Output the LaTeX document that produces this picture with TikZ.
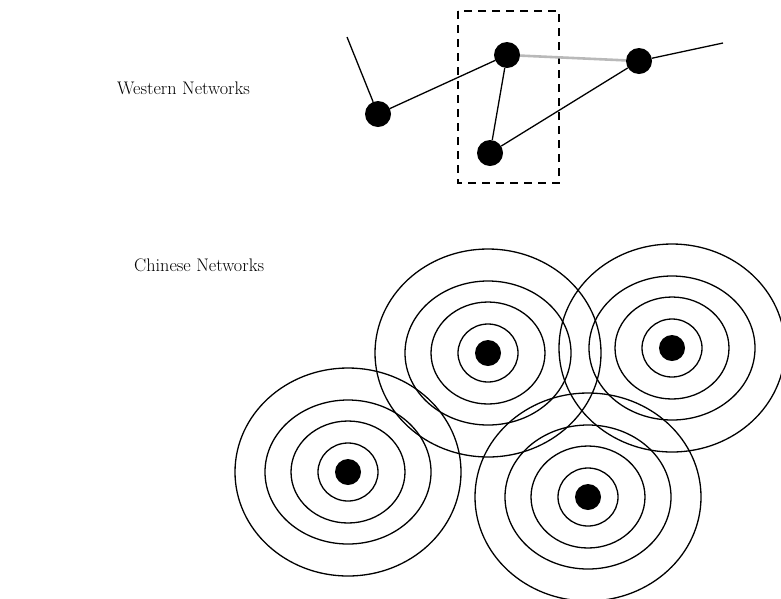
\documentclass[tikz,border=0pt]{standalone}
\usetikzlibrary{positioning}

\begin{document}
\begin{tikzpicture}[x=1pt, y=-1pt,
    dot/.style={circle, fill=black, inner sep=0pt, minimum size=26pt},
    lbl/.style={font=\fontsize{18.2}{21}\selectfont, anchor=west, inner sep=0pt},
    link/.style={line width=1.3pt}]
    \useasboundingbox (0,0) rectangle (781,598);
    % western: nodes joined by single lines
    \node[lbl] (west) at (117,88) {Western Networks};
    \draw[dashed, line width=1.6pt, dash pattern=on 8pt off 6pt] (458,11) rectangle (559,183);
    \node[dot] (a) at (378,114) {};
    \node[dot] (b) at (507,55) {};
    \node[dot] (c) at (490,153) {};
    \node[dot] (d) at (639,61) {};
    \coordinate (aend) at (347,37);
    \coordinate (dend) at (723,43);
    \draw[link] (aend) -- (a) -- (b) -- (c) -- (d) -- (dend);
    \draw[gray!55, line width=2.6pt] (b) -- (d);
    % chinese: rings round each centre
    \node[lbl] (east) at (134,265) {Chinese Networks};
    \foreach \n/\cx/\cy in {p/348/472, q/488/353, r/672/348, s/588/497} {
        \foreach \rx/\ry in {113/104, 83/72, 57/51, 30/29}
            \draw[link] (\cx,\cy) ellipse [x radius=\rx pt, y radius=\ry pt];
        \node[dot] (\n) at (\cx,\cy) {};
    }
\end{tikzpicture}
\end{document}
